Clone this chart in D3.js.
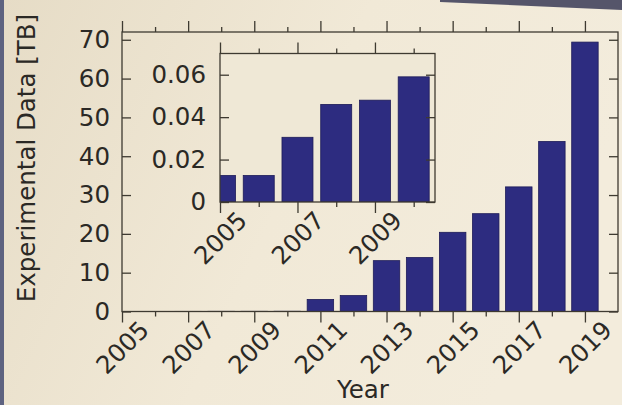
<!DOCTYPE html>
<html>
<head>
<meta charset="utf-8">
<script src="https://cdn.jsdelivr.net/npm/d3@7"></script>
<style>
  html, body { margin: 0; padding: 0; background: #ede5d1; }
  svg { display: block; }
</style>
</head>
<body>
<svg id="chart" width="622" height="405"></svg>
<script>
// Yearly volume of experimental data, in terabytes
const years  = [2005, 2006, 2007, 2008, 2009, 2010, 2011, 2012, 2013, 2014, 2015, 2016, 2017, 2018, 2019];
const dataTB = [0.0125, 0.0125, 0.0305, 0.046, 0.048, 0.059, 3.1, 4.1, 13.1, 13.9, 20.4, 25.2, 32.1, 43.8, 69.4];

// Inset zooms on the early years
const insetYears = [2005, 2006, 2007, 2008, 2009, 2010];

// Tick values and labels
const mainMajorYears  = [2005, 2007, 2009, 2011, 2013, 2015, 2017, 2019];
const mainMinorYears  = [2006, 2008, 2010, 2012, 2014, 2016, 2018];
const mainYTicks      = [0, 10, 20, 30, 40, 50, 60, 70];
const insetMajorYears = [2005, 2007, 2009];
const insetMinorYears = [2006, 2008, 2010];
const insetYTicks     = [0, 0.02, 0.04, 0.06];
const insetYLabels    = ["0", "0.02", "0.04", "0.06"];

const FONT = "'DejaVu Sans', sans-serif";
const FS = 24.5;
const INK = "#2b2925";
const AXIS = "#3e3a31";
const BAR = "#2d2c80";
const BAR_EDGE = "#1d1b58";

const svg = d3.select("#chart");
const W = 622, H = 405;

// paper background
const defs = svg.append("defs");
const bg = defs.append("linearGradient").attr("id", "paper")
  .attr("x1", "0").attr("y1", "0").attr("x2", "1").attr("y2", "0.3");
bg.append("stop").attr("offset", "0").attr("stop-color", "#e6dcc6");
bg.append("stop").attr("offset", "0.55").attr("stop-color", "#f1e9d7");
bg.append("stop").attr("offset", "1").attr("stop-color", "#f3ecdc");
svg.append("rect").attr("width", W).attr("height", H).attr("fill", "url(#paper)");
svg.append("rect").attr("x", 0).attr("y", 0).attr("width", 4).attr("height", H).attr("fill", "#5e6380");
svg.append("path").attr("d", "M440,0 L622,0 L622,10 L440,2 Z").attr("fill", "#55556a");

function drawAxes(g, box, x, y, cfg) {
  const clipId = cfg.id + "-clip";
  defs.append("clipPath").attr("id", clipId)
    .append("rect").attr("x", box.left).attr("y", box.top)
    .attr("width", box.right - box.left).attr("height", box.bottom - box.top);

  // axes background
  g.append("rect")
    .attr("x", box.left).attr("y", box.top)
    .attr("width", box.right - box.left).attr("height", box.bottom - box.top)
    .attr("fill", cfg.fill);

  // bars
  g.append("g").attr("clip-path", `url(#${clipId})`)
    .selectAll("rect").data(cfg.bars).join("rect")
    .attr("x", d => x(d.year - 0.4))
    .attr("width", d => x(d.year + 0.4) - x(d.year - 0.4))
    .attr("y", d => y(d.value))
    .attr("height", d => y(0) - y(d.value))
    .attr("fill", BAR)
    .attr("stroke", BAR_EDGE)
    .attr("stroke-width", 0.8);

  const style = sel => {
    sel.select(".domain").remove();
    sel.selectAll("line").attr("stroke", AXIS).attr("stroke-width", 1.3);
    sel.selectAll("text").attr("font-family", FONT).attr("font-size", FS).attr("fill", INK);
  };

  // bottom: major ticks with rotated labels, minor ticks
  g.append("g").attr("transform", `translate(0,${box.bottom})`)
    .call(d3.axisBottom(x).tickValues(cfg.major).tickSize(11).tickFormat(d3.format("d")))
    .call(style)
    .call(s => s.selectAll("text")
      .attr("y", 0).attr("dy", "0.35em")
      .attr("text-anchor", "middle")
      .attr("transform", "translate(0,36) rotate(-45)"));
  g.append("g").attr("transform", `translate(0,${box.bottom})`)
    .call(d3.axisBottom(x).tickValues(cfg.minor).tickSize(5).tickFormat(""))
    .call(style);

  // top: ticks only
  g.append("g").attr("transform", `translate(0,${box.top})`)
    .call(d3.axisTop(x).tickValues(cfg.major).tickSize(11).tickFormat(""))
    .call(style);
  g.append("g").attr("transform", `translate(0,${box.top})`)
    .call(d3.axisTop(x).tickValues(cfg.minor).tickSize(5).tickFormat(""))
    .call(style);

  // left: inward ticks with labels
  g.append("g").attr("transform", `translate(${box.left},0)`)
    .call(d3.axisLeft(y).tickValues(cfg.yTicks).tickSizeInner(-9).tickSizeOuter(0)
      .tickPadding(cfg.yPad).tickFormat((d, i) => cfg.yLabels[i]))
    .call(style);
  // right: inward ticks
  g.append("g").attr("transform", `translate(${box.right},0)`)
    .call(d3.axisRight(y).tickValues(cfg.yTicks).tickSizeInner(-9).tickSizeOuter(0).tickFormat(""))
    .call(style);

  // frame
  g.append("rect")
    .attr("x", box.left).attr("y", box.top)
    .attr("width", box.right - box.left).attr("height", box.bottom - box.top)
    .attr("fill", "none").attr("stroke", AXIS).attr("stroke-width", 1.3);
}

// main axes
const mainBox = { left: 122, right: 618, top: 32, bottom: 311.5 };
const xMain = d3.scaleLinear().domain([2005, 2020]).range([mainBox.left, mainBox.right]);
const yMain = d3.scaleLinear().domain([0, 72]).range([mainBox.bottom, mainBox.top]);
drawAxes(svg.append("g"), mainBox, xMain, yMain, {
  id: "main",
  fill: "none",
  bars: years.map((yr, i) => ({ year: yr, value: dataTB[i] })),
  major: mainMajorYears, minor: mainMinorYears,
  yTicks: mainYTicks, yLabels: mainYTicks.map(String), yPad: 12
});

// inset axes
const insetBox = { left: 220, right: 435, top: 53.5, bottom: 202 };
const xInset = d3.scaleLinear().domain([2005, 2010.55]).range([insetBox.left, insetBox.right]);
const yInset = d3.scaleLinear().domain([0, 0.07]).range([insetBox.bottom, insetBox.top]);
drawAxes(svg.append("g"), insetBox, xInset, yInset, {
  id: "inset",
  fill: "#efe8d6",
  bars: insetYears.map(yr => ({ year: yr, value: dataTB[years.indexOf(yr)] })),
  major: insetMajorYears, minor: insetMinorYears,
  yTicks: insetYTicks, yLabels: insetYLabels, yPad: 14
});

// axis titles
svg.append("text")
  .attr("x", 363).attr("y", 398)
  .attr("text-anchor", "middle")
  .attr("font-family", FONT).attr("font-size", FS).attr("fill", INK)
  .text("Year");
svg.append("text")
  .attr("transform", "translate(35,158) rotate(-90)")
  .attr("text-anchor", "middle")
  .attr("font-family", FONT).attr("font-size", FS).attr("fill", INK)
  .text("Experimental Data [TB]");
</script>
</body>
</html>
